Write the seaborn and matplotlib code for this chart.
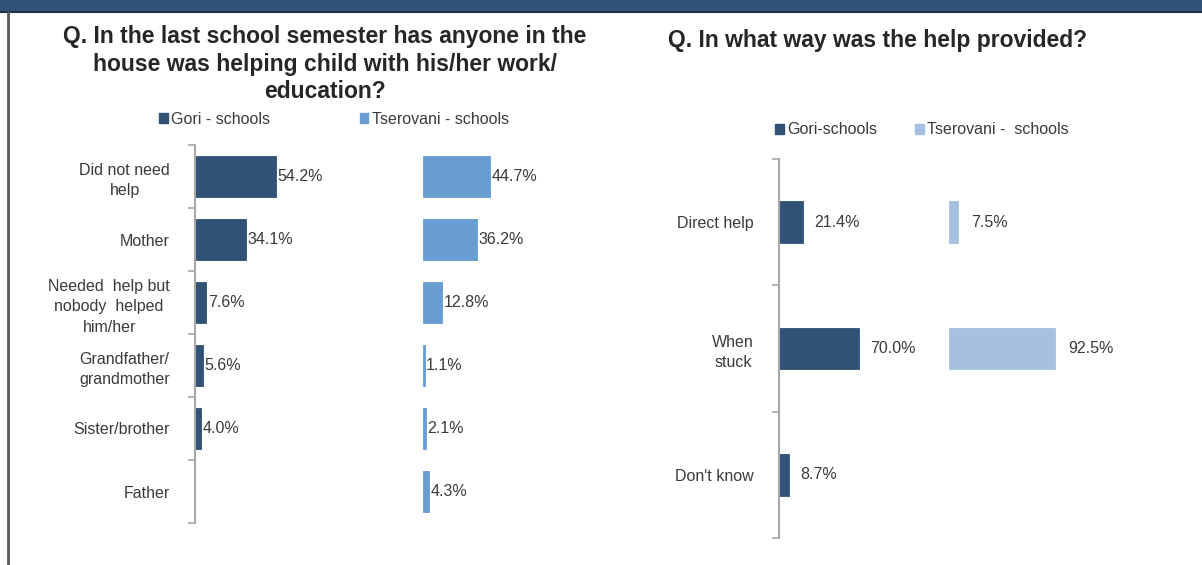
import numpy as np
import pandas as pd
import seaborn as sns
import matplotlib.pyplot as plt
from matplotlib.patches import Patch, Rectangle
from matplotlib.lines import Line2D

# data
who_cats = ["Did not need\nhelp", "Mother", "Needed  help but\nnobody  helped\nhim/her",
            "Grandfather/\ngrandmother", "Sister/brother", "Father"]
who_gori = [54.2, 34.1, 7.6, 5.6, 4.0, np.nan]
who_tser = [44.7, 36.2, 12.8, 1.1, 2.1, 4.3]

way_cats = ["Direct help", "When\nstuck", "Don't know"]
way_gori = [21.4, 70.0, 8.7]
way_tser = [7.5, 92.5, np.nan]

col_gori = (47/255, 82/255, 117/255)
col_tser_left = (104/255, 157/255, 210/255)
col_tser_right = (166/255, 193/255, 224/255)
txt_col = "#3a3a3a"

sns.set_style("white")
plt.rcParams['font.family'] = ['Liberation Sans', 'DejaVu Sans']

W, H = 1202, 565
fig = plt.figure(figsize=(W / 100, H / 100), dpi=100)


def px_axes(x0, x1, y0, y1):
    return fig.add_axes([x0 / W, 1 - y1 / H, (x1 - x0) / W, (y1 - y0) / H])


def draw(ax, cats, vals, color, width, xmax, with_axis, pad):
    df = pd.DataFrame({"cat": cats, "val": vals})
    sns.barplot(data=df, y="cat", x="val", order=cats, orient="h", color=color,
                saturation=1, width=width, ax=ax, edgecolor=color, linewidth=0.6)
    n = len(cats)
    ax.set_xlim(0, xmax)
    ax.set_ylim(n - 0.5, -0.5)
    ax.xaxis.set_visible(False)
    ax.set_ylabel("")
    ax.set_facecolor("none")
    for s in ["top", "right", "bottom"]:
        ax.spines[s].set_visible(False)
    if with_axis:
        ax.spines["left"].set_color("#a8a8a8")
        ax.spines["left"].set_linewidth(1.5)
        ax.tick_params(axis="y", which="major", left=True, length=0, pad=18,
                       labelsize=11.5, labelcolor=txt_col)
        ax.set_yticks(np.arange(-0.5, n), minor=True)
        ax.tick_params(axis="y", which="minor", left=True, length=5, width=1.2,
                       color="#a8a8a8")
        for t in ax.get_yticklabels():
            t.set_multialignment("center")
            t.set_linespacing(1.45)
    else:
        ax.spines["left"].set_visible(False)
        ax.set_yticks([])
    bars = ax.containers[0]
    labels = ["" if np.isnan(b.get_width()) else f"{b.get_width():.1f}%" for b in bars]
    ax.bar_label(bars, labels=labels, padding=pad, fontsize=11.5, color=txt_col)


# left panel
ax1 = px_axes(195, 420, 145, 523)
draw(ax1, who_cats, who_gori, col_gori, 0.65, 150, True, 1)
ax2 = px_axes(423, 620, 145, 523)
draw(ax2, who_cats, who_tser, col_tser_left, 0.65, 131, False, 1)

# right panel
ax3 = px_axes(779, 947, 159, 538)
draw(ax3, way_cats, way_gori, col_gori, 0.33, 147, True, 8)
ax4 = px_axes(949, 1150, 159, 538)
draw(ax4, way_cats, way_tser, col_tser_right, 0.33, 176, False, 10)

# titles
fig.text(325 / W, 1 - 64 / H,
         "Q. In the last school semester has anyone in the\nhouse was helping child with his/her work/\neducation?",
         ha="center", va="center", fontsize=16.5, fontweight="bold", linespacing=1.25)
fig.text(668 / W, 1 - 40 / H, "Q. In what way was the help provided?",
         ha="left", va="center", fontsize=16.5, fontweight="bold")

# legends
fig.legend(handles=[Patch(color=col_gori, label="Gori - schools"),
                    Patch(color=col_tser_left, label="Tserovani - schools")],
           loc="center", bbox_to_anchor=(334 / W, 1 - 119 / H), ncol=2, frameon=False,
           fontsize=11.5, handlelength=0.55, handleheight=0.55, handletextpad=0.2,
           columnspacing=5.6, labelcolor=txt_col)
fig.legend(handles=[Patch(color=col_gori, label="Gori-schools"),
                    Patch(color=col_tser_right, label="Tserovani -  schools")],
           loc="center", bbox_to_anchor=(922 / W, 1 - 130 / H), ncol=2, frameon=False,
           fontsize=11.5, handlelength=0.55, handleheight=0.55, handletextpad=0.2,
           columnspacing=2.4, labelcolor=txt_col)

# header band and left border
fig.patches.append(Rectangle((0, 1 - 11 / H), 1, 11 / H, transform=fig.transFigure,
                             facecolor="#30527a", edgecolor="none"))
fig.lines.append(Line2D([0, 1], [1 - 12 / H, 1 - 12 / H], transform=fig.transFigure,
                        color="#1d3147", linewidth=1.5))
fig.lines.append(Line2D([8 / W, 8 / W], [0, 1 - 12 / H], transform=fig.transFigure,
                        color="#5a5a5a", linewidth=2))

fig.savefig("out.png", dpi=100)
